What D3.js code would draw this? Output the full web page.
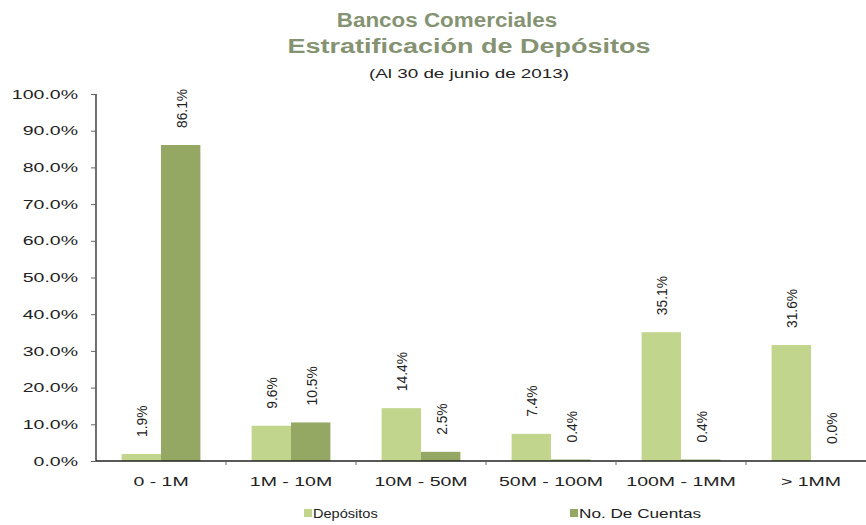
<!DOCTYPE html>
<html>
<head>
<meta charset="utf-8">
<script src="https://cdn.jsdelivr.net/npm/d3@7"></script>
<style>
  body { margin: 0; background: #fff; }
  text { font-family: "Liberation Sans", Arial, sans-serif; }
</style>
</head>
<body>
<div id="chart"></div>
<script>
var categories = ["0 - 1M", "1M - 10M", "10M - 50M", "50M - 100M", "100M - 1MM", "> 1MM"];
var seriesNames = ["Depósitos", "No. De Cuentas"];
var depositos = [1.9, 9.6, 14.4, 7.4, 35.1, 31.6];
var cuentas = [86.1, 10.5, 2.5, 0.4, 0.4, 0.0];
var yTicks = [0, 10, 20, 30, 40, 50, 60, 70, 80, 90, 100];
var colors = ["#c2d58c", "#94a864"];

var W = 866, H = 525;
var svg = d3.select("#chart").append("svg").attr("width", W).attr("height", H);

// the original picture is stretched wide, so widen the text the same way
function stretch(sel, f) {
  sel.each(function(){
    var w = this.getComputedTextLength();
    d3.select(this).attr("textLength", w * f).attr("lengthAdjust", "spacingAndGlyphs");
  });
}

var x = d3.scaleBand().domain(categories).range([96, 876]);
var xs = d3.scaleBand().domain(seriesNames).range([0, x.bandwidth()]).paddingInner(0).paddingOuter(0.65);
var y = d3.scaleLinear().domain([0, 100]).range([461, 94]);

// titles
var t1 = svg.append("text").attr("x", 447).attr("y", 27).attr("text-anchor", "middle")
  .style("font-size", "20px").style("font-weight", "bold").attr("fill", "#859372")
  .text("Bancos Comerciales");
stretch(t1, 1.12);
var t2 = svg.append("text").attr("x", 469).attr("y", 53).attr("text-anchor", "middle")
  .style("font-size", "20px").style("font-weight", "bold").attr("fill", "#859372")
  .text("Estratificación de Depósitos");
stretch(t2, 1.35);
var t3 = svg.append("text").attr("x", 469).attr("y", 78).attr("text-anchor", "middle")
  .style("font-size", "13px").attr("fill", "#222")
  .text("(Al 30 de junio de 2013)");
stretch(t3, 1.45);

// y axis
var yAxis = svg.append("g").attr("transform", "translate(96,0)")
  .call(d3.axisLeft(y).tickValues(yTicks).tickSize(5).tickPadding(13).tickFormat(function(d){ return d.toFixed(1) + "%"; }));
yAxis.selectAll("text").style("font-size", "13px").attr("fill", "#222").call(stretch, 1.5);
yAxis.selectAll("line").attr("stroke", "#666");
yAxis.select(".domain").attr("stroke", "#222").attr("stroke-width", 1.3).attr("d", "M0,94V461");

// bars
var data = categories.map(function(c, i){ return [{c: c, s: seriesNames[0], v: depositos[i]}, {c: c, s: seriesNames[1], v: cuentas[i]}]; });
var groups = svg.selectAll("g.grp").data(data).enter().append("g").attr("class", "grp")
  .attr("transform", function(d){ return "translate(" + x(d[0].c) + ",0)"; });
groups.selectAll("rect").data(function(d){ return d; }).enter().append("rect")
  .attr("x", function(d){ return xs(d.s); })
  .attr("width", xs.bandwidth())
  .attr("y", function(d){ return y(d.v); })
  .attr("height", function(d){ return y(0) - y(d.v); })
  .attr("fill", function(d, i){ return colors[i]; });
groups.selectAll("text.lbl").data(function(d){ return d; }).enter().append("text").attr("class", "lbl")
  .attr("transform", function(d){ return "translate(" + (xs(d.s) + xs.bandwidth() / 2 + 6) + "," + (y(d.v) - 17) + ") rotate(-90)"; })
  .style("font-size", "15px").attr("fill", "#222")
  .text(function(d){ return d.v.toFixed(1) + "%"; })
  .call(stretch, 0.92);

// x axis
var xAxis = svg.append("g").attr("transform", "translate(0,461)")
  .call(d3.axisBottom(x).tickSize(0).tickPadding(16));
xAxis.selectAll("text").style("font-size", "13px").attr("fill", "#222").call(stretch, 1.5);
xAxis.select(".domain").attr("stroke", "#222").attr("stroke-width", 1.3).attr("d", "M96,0H876");
xAxis.selectAll(".sep").data(categories.slice(1)).enter().append("line").attr("class", "sep")
  .attr("x1", function(d){ return x(d); }).attr("x2", function(d){ return x(d); })
  .attr("y1", 0).attr("y2", 4).attr("stroke", "#666");

// legend
var legendX = [304, 570];
var legendStretch = [1.12, 1.32];
var lg = svg.selectAll("g.lg").data(seriesNames).enter().append("g").attr("class", "lg")
  .attr("transform", function(d, i){ return "translate(" + legendX[i] + ",518)"; });
lg.append("rect").attr("x", 0).attr("y", -9).attr("width", 8).attr("height", 8).attr("fill", function(d, i){ return colors[i]; });
lg.append("text").attr("x", 9).attr("y", 0).style("font-size", "13px").attr("fill", "#222").text(function(d){ return d; })
  .each(function(d, i){ d3.select(this).call(stretch, legendStretch[i]); });
</script>
</body>
</html>
